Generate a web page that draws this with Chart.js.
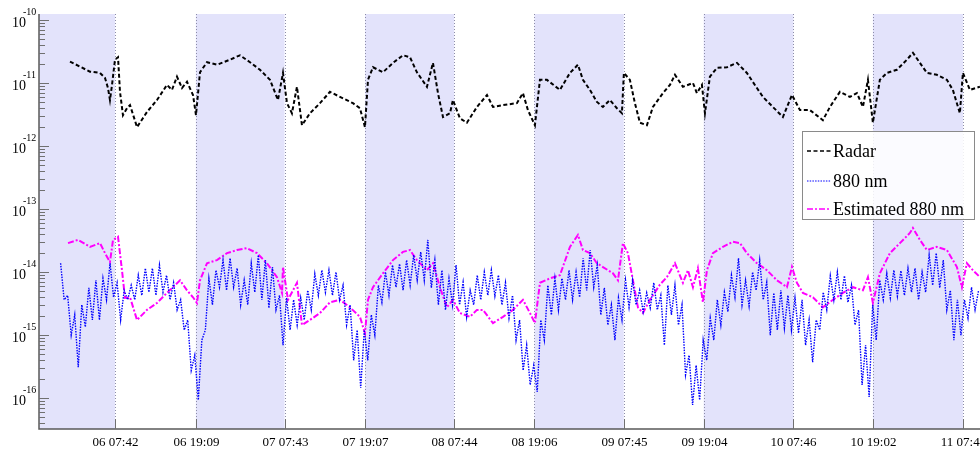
<!DOCTYPE html>
<html>
<head>
<meta charset="utf-8">
<script src="https://cdn.jsdelivr.net/npm/chart.js@4.4.0/dist/chart.umd.min.js"></script>
<style>
  html, body { margin: 0; padding: 0; background: #fff; }
</style>
</head>
<body>
<canvas id="myChart" width="980" height="450"></canvas>
<script>
// time axis: hours counted from day 05, 00:00
var tickHours = [31.7, 43.15, 55.717, 67.117, 79.733, 91.1, 103.75, 115.067, 127.767, 139.033, 151.783];
var tickLabels = ["06 07:42", "06 19:09", "07 07:43", "07 19:07", "08 07:44", "08 19:06",
                  "09 07:45", "09 19:04", "10 07:46", "10 19:02", "11 07:47"];
var nightStart = [20.94, 43.15, 67.117, 91.1, 115.067, 139.033];
var nightEnd = [31.7, 55.717, 79.733, 103.75, 127.767, 151.783];
var decades = [-10, -11, -12, -13, -14, -15, -16];

// Radar (log10 of value)
var radarHours = [25.33,26.75,28.16,29.58,30.29,30.71,30.99,31.28,31.70,32.13,
  32.41,32.83,33.40,33.83,34.82,36.23,37.65,39.06,39.77,40.48,
  41.19,41.90,42.75,43.17,43.74,44.73,46.14,47.98,49.40,50.82,
  52.23,53.65,54.78,55.49,56.06,56.76,57.47,58.18,59.31,60.73,
  62.14,63.56,65.40,66.39,67.10,67.53,68.24,69.65,71.07,72.48,
  73.47,74.46,75.88,76.73,77.44,78.15,79.14,79.56,80.55,81.54,
  82.96,84.38,85.23,86.64,88.62,89.47,90.18,91.17,91.88,92.87,
  94.71,96.13,97.26,97.97,98.96,99.95,100.80,101.79,102.78,103.49,
  103.77,104.62,105.33,106.04,107.03,107.88,109.30,110.29,111.00,112.13,
  113.55,114.11,114.82,115.25,115.95,116.95,118.36,119.78,121.19,122.61,
  123.46,124.87,126.29,127.57,128.70,130.11,131.95,132.95,134.36,135.78,
  136.77,137.62,138.33,139.03,140.02,141.02,142.43,143.85,144.70,145.69,
  146.68,148.09,149.51,150.36,151.35,151.78,152.77,154.19];
var radarLog = [-10.66,-10.74,-10.82,-10.84,-10.92,-11.08,-11.27,-11.03,-10.63,-10.59,
  -11.14,-11.51,-11.40,-11.35,-11.70,-11.46,-11.27,-11.03,-11.11,-10.90,
  -11.08,-10.98,-11.19,-11.51,-10.83,-10.67,-10.71,-10.63,-10.56,-10.67,
  -10.79,-10.95,-11.27,-10.84,-11.32,-11.48,-11.06,-11.67,-11.48,-11.32,
  -11.14,-11.22,-11.32,-11.40,-11.70,-10.95,-10.75,-10.83,-10.68,-10.56,
  -10.59,-10.83,-11.06,-10.68,-11.16,-11.54,-11.48,-11.27,-11.56,-11.63,
  -11.38,-11.19,-11.38,-11.35,-11.32,-11.16,-11.43,-11.67,-10.95,-10.95,
  -11.11,-10.84,-10.71,-10.95,-11.11,-11.30,-11.38,-11.27,-11.40,-11.48,
  -10.84,-10.95,-11.32,-11.63,-11.67,-11.38,-11.16,-11.03,-10.87,-11.06,
  -11.00,-11.16,-11.03,-11.48,-10.90,-10.76,-10.75,-10.68,-10.84,-11.08,
  -11.22,-11.38,-11.54,-11.19,-11.43,-11.43,-11.59,-11.38,-11.14,-11.22,
  -11.16,-11.38,-10.95,-11.63,-10.95,-10.84,-10.79,-10.63,-10.52,-10.68,
  -10.84,-10.87,-10.95,-11.11,-11.48,-10.84,-11.11,-11.06];

// 880 nm, sampled every 30 min from 06 00:00
var nmStart = 24.0;
var nmStep = 0.5;
var nmLog = [-13.86,-14.44,-14.37,-15.00,-14.68,-15.51,-14.52,-14.87,-14.25,-14.76,
  -14.13,-14.76,-14.10,-14.44,-13.86,-14.40,-14.17,-14.76,-14.29,-14.44,
  -14.21,-14.44,-14.05,-14.37,-13.94,-14.32,-13.94,-14.37,-13.89,-14.32,
  -14.05,-14.44,-14.17,-14.60,-14.44,-14.92,-14.76,-15.56,-15.32,-16.03,
  -15.08,-14.92,-14.10,-14.52,-13.97,-14.24,-13.81,-14.29,-13.78,-14.24,
  -13.94,-14.52,-14.13,-14.52,-13.86,-14.32,-13.73,-14.44,-13.81,-14.57,
  -13.92,-14.60,-14.37,-15.16,-14.41,-14.92,-14.44,-14.84,-14.41,-14.76,
  -14.29,-14.60,-14.03,-14.37,-13.97,-14.32,-13.97,-14.37,-14.00,-14.44,
  -14.21,-14.84,-14.52,-15.40,-14.92,-15.84,-14.92,-15.40,-14.68,-15.00,
  -14.21,-14.48,-14.00,-14.37,-13.89,-14.24,-13.87,-14.29,-13.81,-14.21,
  -13.73,-14.13,-13.68,-14.13,-13.49,-14.25,-13.81,-14.52,-13.97,-14.60,
  -14.10,-14.52,-13.89,-14.52,-14.16,-14.71,-14.29,-14.52,-14.05,-14.44,
  -14.00,-14.37,-13.97,-14.38,-14.05,-14.52,-14.17,-14.73,-14.37,-15.08,
  -14.76,-15.56,-15.16,-15.79,-15.48,-15.90,-14.76,-15.08,-14.21,-14.68,
  -14.10,-14.60,-14.10,-14.44,-13.97,-14.44,-14.00,-14.40,-13.78,-14.29,
  -13.65,-14.24,-13.89,-14.68,-14.25,-14.84,-14.52,-15.08,-14.41,-14.76,
  -14.13,-14.56,-14.13,-14.52,-14.29,-14.63,-14.33,-14.57,-14.17,-14.60,
  -14.37,-15.16,-14.21,-14.68,-14.21,-14.84,-14.52,-15.63,-15.32,-16.11,
  -15.48,-16.03,-15.08,-15.40,-14.73,-15.08,-14.44,-14.84,-14.32,-14.63,
  -14.05,-14.40,-13.78,-14.52,-14.13,-14.54,-14.00,-14.29,-13.81,-14.44,
  -14.16,-15.00,-14.33,-14.92,-14.29,-14.89,-14.37,-14.92,-14.41,-14.97,
  -14.44,-15.16,-14.76,-15.43,-14.76,-14.92,-14.32,-14.60,-14.06,-14.44,
  -14.00,-14.44,-14.06,-14.48,-14.21,-14.84,-14.60,-15.79,-15.16,-15.98,
  -14.52,-15.08,-14.13,-14.44,-14.02,-14.41,-13.97,-14.38,-13.98,-14.37,
  -13.94,-14.32,-13.94,-14.44,-14.00,-14.32,-13.73,-14.21,-13.70,-14.25,
  -13.81,-14.60,-14.29,-15.08,-14.44,-15.00,-14.44,-14.73,-14.24,-14.60,-14.29];

// Estimated 880 nm
var estHours = [25.05,26.46,28.16,29.58,30.29,30.99,31.42,32.13,32.69,33.12,
  33.83,34.82,36.23,37.65,39.06,39.91,40.91,41.90,42.75,43.31,
  43.74,44.73,46.14,47.56,48.98,50.39,51.81,53.22,54.64,55.35,
  55.49,56.20,57.47,58.18,59.31,60.73,62.14,63.56,64.98,66.39,
  67.10,67.53,68.24,69.65,71.07,72.48,73.47,74.46,75.88,76.73,
  77.72,78.71,79.56,80.55,81.97,82.96,83.81,85.23,86.64,88.06,
  89.47,90.47,91.17,91.88,93.30,94.71,96.13,97.26,97.97,98.96,
  99.95,100.80,102.22,102.93,103.63,104.34,105.05,105.76,106.47,107.46,
  108.87,109.86,111.00,112.13,112.84,113.55,114.25,114.96,115.53,116.38,
  117.79,119.21,120.20,121.19,122.61,124.02,125.44,126.86,127.57,128.27,
  129.12,130.54,131.95,133.37,134.79,136.20,137.62,138.33,139.03,140.02,
  141.44,142.86,144.27,144.70,145.69,146.68,148.09,149.51,150.93,151.64,
  152.34,153.19,154.19];
var estLog = [-13.54,-13.49,-13.60,-13.54,-13.70,-13.84,-13.49,-13.44,-13.97,-14.41,
  -14.40,-14.76,-14.60,-14.49,-14.33,-14.24,-14.13,-14.29,-14.40,-14.49,
  -14.13,-13.86,-13.81,-13.70,-13.65,-13.62,-13.70,-13.86,-14.08,-14.33,
  -13.92,-14.44,-14.17,-14.84,-14.76,-14.65,-14.48,-14.44,-14.56,-14.71,
  -14.97,-14.44,-14.24,-14.02,-13.81,-13.68,-13.65,-13.81,-13.97,-13.86,
  -14.24,-14.56,-14.44,-14.65,-14.71,-14.60,-14.60,-14.81,-14.71,-14.60,
  -14.44,-14.65,-14.81,-14.17,-14.10,-14.05,-13.60,-13.41,-13.65,-13.70,
  -13.86,-13.92,-14.02,-14.13,-13.54,-13.70,-14.13,-14.56,-14.65,-14.44,
  -14.20,-14.08,-13.86,-14.17,-13.97,-14.24,-13.94,-14.48,-13.97,-13.70,
  -13.60,-13.52,-13.54,-13.70,-13.86,-13.97,-14.13,-14.24,-13.92,-14.17,
  -14.33,-14.40,-14.56,-14.44,-14.33,-14.24,-14.29,-14.08,-14.49,-14.02,
  -13.70,-13.54,-13.38,-13.30,-13.49,-13.65,-13.60,-13.65,-13.92,-14.24,
  -13.86,-13.97,-14.08];

var serif = '"Liberation Serif", "Times New Roman", serif';

function toPoints(hours, logs) {
  var pts = [];
  for (var i = 0; i < logs.length; i++) {
    pts.push({ x: hours[i], y: Math.pow(10, logs[i]) });
  }
  return pts;
}

var nmHours = [];
for (var i = 0; i < nmLog.length; i++) nmHours.push(nmStart + i * nmStep);

var bandsPlugin = {
  id: 'nightBands',
  beforeDatasetsDraw: function(chart) {
    var ctx = chart.ctx, a = chart.chartArea, xs = chart.scales.x;
    ctx.save();
    ctx.fillStyle = '#e3e3fb';
    for (var i = 0; i < nightStart.length; i++) {
      var x0 = Math.max(xs.getPixelForValue(nightStart[i]), a.left);
      var x1 = Math.min(xs.getPixelForValue(nightEnd[i]), a.right);
      ctx.fillRect(x0, a.top, x1 - x0, a.bottom - a.top);
    }
    ctx.strokeStyle = '#8c8ca8';
    ctx.lineWidth = 1;
    ctx.setLineDash([1, 2]);
    for (var j = 0; j < tickHours.length; j++) {
      var px = Math.round(xs.getPixelForValue(tickHours[j])) + 0.5;
      ctx.beginPath();
      ctx.moveTo(px, a.top);
      ctx.lineTo(px, a.bottom);
      ctx.stroke();
    }
    ctx.restore();
  }
};

var axesPlugin = {
  id: 'axesAndLegend',
  afterDatasetsDraw: function(chart) {
    var ctx = chart.ctx, a = chart.chartArea;
    var xs = chart.scales.x, ys = chart.scales.y;
    ctx.save();
    ctx.strokeStyle = '#5a5a5a';
    ctx.lineWidth = 1.5;
    ctx.beginPath();
    ctx.moveTo(a.left, a.top);
    ctx.lineTo(a.left, a.bottom);
    ctx.lineTo(a.right, a.bottom);
    ctx.stroke();

    // y ticks, inside the plot
    ctx.lineWidth = 1;
    ctx.strokeStyle = '#707070';
    for (var d = -17; d <= -10; d++) {
      for (var k = 1; k <= 9; k++) {
        var v = k * Math.pow(10, d);
        if (v < ys.min || v > ys.max) continue;
        var py = Math.round(ys.getPixelForValue(v)) + 0.5;
        ctx.beginPath();
        ctx.moveTo(a.left, py);
        ctx.lineTo(a.left + (k === 1 ? 10 : 6), py);
        ctx.stroke();
      }
    }

    // y labels 10^n
    ctx.fillStyle = '#000';
    ctx.textBaseline = 'middle';
    ctx.textAlign = 'left';
    for (var n = 0; n < decades.length; n++) {
      var y0 = ys.getPixelForValue(Math.pow(10, decades[n]));
      ctx.font = '14px ' + serif;
      ctx.fillText('10', 12, y0 + 3);
      ctx.font = '10px ' + serif;
      ctx.fillText(String(decades[n]), 23, y0 - 8);
    }

    // x ticks and labels
    ctx.strokeStyle = '#707070';
    ctx.font = '13px ' + serif;
    ctx.textAlign = 'center';
    for (var t = 0; t < tickHours.length; t++) {
      var px = Math.round(xs.getPixelForValue(tickHours[t])) + 0.5;
      ctx.beginPath();
      ctx.moveTo(px, a.bottom);
      ctx.lineTo(px, a.bottom - 10);
      ctx.stroke();
      ctx.fillText(tickLabels[t], px, a.bottom + 14);
    }

    // legend box
    ctx.setLineDash([]);
    ctx.fillStyle = 'rgba(255,255,255,0.85)';
    ctx.fillRect(802, 131, 173, 89);
    ctx.strokeStyle = '#8a8a8a';
    ctx.lineWidth = 1;
    ctx.strokeRect(802.5, 131.5, 172, 88);
    var rows = [151, 181, 209];
    ctx.font = '18px ' + serif;
    ctx.textAlign = 'left';
    chart.data.datasets.forEach(function(ds, i) {
      ctx.strokeStyle = ds.borderColor;
      ctx.lineWidth = ds.legendWidth;
      ctx.setLineDash(ds.borderDash);
      ctx.beginPath();
      ctx.moveTo(807, rows[i]);
      ctx.lineTo(831, rows[i]);
      ctx.stroke();
      ctx.fillStyle = '#000';
      ctx.fillText(ds.label, 833, rows[i] + 1);
    });
    ctx.restore();
  }
};

var ctx = document.getElementById("myChart").getContext('2d');
var myChart = new Chart(ctx, {
  type: 'line',
  data: {
    datasets: [{
      label: 'Radar',
      data: toPoints(radarHours, radarLog),
      borderColor: '#000000',
      borderWidth: 2,
      borderDash: [4, 2.5],
      legendWidth: 1.5
    }, {
      label: '880 nm',
      data: toPoints(nmHours, nmLog),
      borderColor: '#0000ff',
      borderWidth: 1.4,
      borderDash: [1.5, 1.2],
      legendWidth: 1
    }, {
      label: 'Estimated 880 nm',
      data: toPoints(estHours, estLog),
      borderColor: '#ff00ff',
      borderWidth: 2,
      borderDash: [6, 2, 2, 2],
      legendWidth: 1.5
    }]
  },
  options: {
    responsive: false,
    animation: false,
    devicePixelRatio: 1,
    layout: { padding: { top: 14, left: 0, right: 0, bottom: 0 } },
    elements: { point: { radius: 0 }, line: { tension: 0, fill: false } },
    plugins: { legend: { display: false }, tooltip: { enabled: false } },
    scales: {
      x: {
        type: 'linear', min: 20.94, max: 154.2,
        grid: { display: false }, border: { display: false }, ticks: { display: false },
        afterFit: function(s) { s.height = 21; }
      },
      y: {
        type: 'logarithmic', min: Math.pow(10, -16.49), max: Math.pow(10, -9.905),
        grid: { display: false }, border: { display: false }, ticks: { display: false },
        afterFit: function(s) { s.width = 39; }
      }
    }
  },
  plugins: [bandsPlugin, axesPlugin]
});
</script>
</body>
</html>
